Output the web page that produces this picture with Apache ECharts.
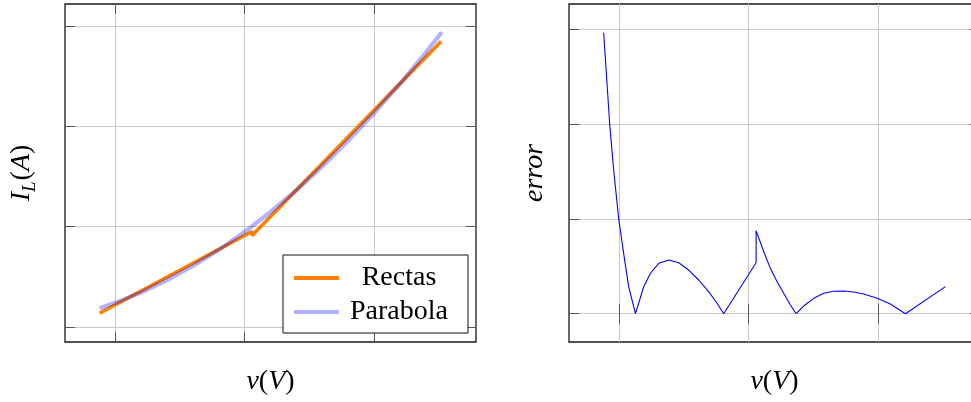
<!DOCTYPE html>
<html>
<head>
<meta charset="utf-8">
<script src="https://cdn.jsdelivr.net/npm/echarts@6/dist/echarts.min.js"></script>
<style>
  html, body { margin: 0; padding: 0; background: #fff; }
  #chart { width: 971px; height: 402px; }
</style>
</head>
<body>
<div id="chart"></div>
<script>
// Tick positions (no tick labels are printed)
const vTicks = [1, 2, 3];
const currentTicks = [1, 2, 3, 4];
const errorTicks = [0, 1, 2, 3];

// Piecewise straight-line fit ("Rectas"): two segments with a step at the joint
const rectasV = [0.880, 2.057, 2.057, 3.515];
const rectasI = [1.137, 1.952, 1.912, 3.846];

// Parabola fit
const parabolaV = [0.88, 1.0, 1.2, 1.4, 1.6, 1.8, 2.0, 2.2, 2.4, 2.6, 2.8, 3.0, 3.2, 3.4, 3.52];
const parabolaI = [1.188, 1.241, 1.344, 1.467, 1.608, 1.769, 1.949, 2.147, 2.365, 2.602, 2.859, 3.134, 3.428, 3.741, 3.939];

// Error between the two fits
const errorV = [0.881, 0.927, 0.958, 0.997, 1.035, 1.074, 1.126,
                1.151, 1.190, 1.242, 1.306, 1.383, 1.460, 1.537, 1.614, 1.691, 1.756, 1.807,
                2.057, 2.057, 2.116, 2.167, 2.219, 2.270, 2.322, 2.366,
                2.424, 2.502, 2.579, 2.656, 2.733, 2.810, 2.887, 2.991, 3.093, 3.209, 3.518];
const errorE = [2.961, 2.006, 1.514, 0.998, 0.636, 0.285, 0.000,
                0.110, 0.285, 0.426, 0.531, 0.566, 0.537, 0.460, 0.355, 0.232, 0.110, 0.000,
                0.537, 0.875, 0.653, 0.478, 0.337, 0.215, 0.092, 0.000,
                0.081, 0.162, 0.215, 0.236, 0.239, 0.229, 0.208, 0.162, 0.102, 0.000, 0.285];

const pairs = (xs, ys) => xs.map((x, i) => [x, ys[i]]);

const SERIF = '"Liberation Serif", "DejaVu Serif", serif';
const GRID_COLOR = '#c8c8c8';
const TICK_COLOR = '#555';
const FS = 28;

const mathRich = {
  i: { fontFamily: SERIF, fontStyle: 'italic', fontSize: FS, color: '#000' },
  n: { fontFamily: SERIF, fontSize: FS, color: '#000' },
  s: { fontFamily: SERIF, fontStyle: 'italic', fontSize: 19, color: '#000', padding: [15, 1, 0, 0] }
};

const X_MIN = 0.6134, X_MAX = 3.7847;

function valueAxis(gridIndex, position, min, max, ticks, primary, name, nameGap) {
  const ax = {
    type: 'value',
    gridIndex: gridIndex,
    position: position,
    min: min,
    max: max,
    axisLine: { show: false },
    axisTick: { show: true, inside: true, length: 10, customValues: ticks, lineStyle: { color: TICK_COLOR, width: 1 } },
    axisLabel: { show: false, customValues: ticks },
    splitLine: { show: primary, lineStyle: { color: GRID_COLOR, width: 1 } }
  };
  if (name) {
    ax.name = name;
    ax.nameLocation = 'middle';
    ax.nameGap = nameGap;
    ax.nameTextStyle = { fontFamily: SERIF, fontSize: FS, color: '#000', rich: mathRich };
  }
  return ax;
}

const chart = echarts.init(document.getElementById('chart'), null, { renderer: 'canvas' });

const panel = left => ({
  left: left, top: 4, width: 411, height: 338,
  outerBoundsMode: 'none', containLabel: false,
  show: true, borderColor: '#1a1a1a', borderWidth: 1.3, backgroundColor: 'transparent'
});

chart.setOption({
  animation: false,
  backgroundColor: '#fff',
  grid: [panel(65), panel(569)],
  xAxis: [
    valueAxis(0, 'bottom', X_MIN, X_MAX, vTicks, true, '{i|v}{n|(}{i|V}{n|)}', 26),
    valueAxis(0, 'top', X_MIN, X_MAX, vTicks, false),
    valueAxis(1, 'bottom', X_MIN, X_MAX, vTicks, true, '{i|v}{n|(}{i|V}{n|)}', 26),
    valueAxis(1, 'top', X_MIN, X_MAX, vTicks, false)
  ],
  yAxis: [
    valueAxis(0, 'left', 0.8505, 4.2203, currentTicks, true, '{i|I}{s|L}{n|(}{i|A}{n|)}', 26),
    valueAxis(0, 'right', 0.8505, 4.2203, currentTicks, false),
    valueAxis(1, 'left', -0.2982, 3.2634, errorTicks, true, '{i|error}', 20),
    valueAxis(1, 'right', -0.2982, 3.2634, errorTicks, false)
  ],
  legend: {
    left: 283,
    top: 255,
    orient: 'vertical',
    backgroundColor: '#fff',
    borderColor: '#111',
    borderWidth: 1,
    borderRadius: 0,
    padding: [9, 14, 7, 11],
    itemGap: 6,
    itemWidth: 45,
    itemHeight: 4,
    data: [
      { name: 'Rectas', icon: 'rect' },
      { name: 'Parabola', icon: 'rect' }
    ],
    formatter: name => '{c|' + name + '}',
    textStyle: {
      fontFamily: SERIF,
      fontSize: FS,
      color: '#000',
      rich: { c: { fontFamily: SERIF, fontSize: FS, color: '#000', width: 110, align: 'center', lineHeight: 30 } }
    }
  },
  series: [
    {
      name: 'Rectas',
      type: 'line',
      xAxisIndex: 0,
      yAxisIndex: 0,
      data: pairs(rectasV, rectasI),
      showSymbol: false,
      symbol: 'none',
      color: '#ff8000',
      lineStyle: { color: '#ff8000', width: 3.6 },
      z: 3
    },
    {
      name: 'Parabola',
      type: 'line',
      xAxisIndex: 0,
      yAxisIndex: 0,
      data: pairs(parabolaV, parabolaI),
      showSymbol: false,
      symbol: 'none',
      color: 'rgba(0,0,255,0.3)',
      lineStyle: { color: 'rgba(0,0,255,0.3)', width: 4.2 },
      z: 4
    },
    {
      name: 'error',
      type: 'line',
      xAxisIndex: 2,
      yAxisIndex: 2,
      data: pairs(errorV, errorE),
      showSymbol: false,
      symbol: 'none',
      color: '#0000ff',
      lineStyle: { color: '#0000ff', width: 1.1 },
      z: 3
    }
  ]
});
</script>
</body>
</html>
